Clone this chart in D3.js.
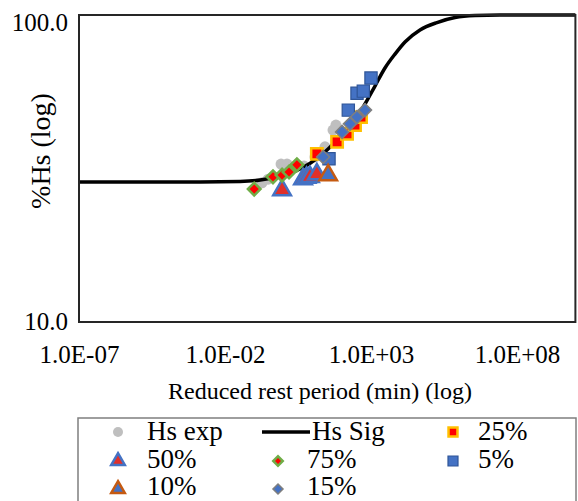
<!DOCTYPE html>
<html>
<head>
<meta charset="utf-8">
<script src="https://cdn.jsdelivr.net/npm/d3@7"></script>
<style>
  html, body { margin: 0; padding: 0; background: #fff; }
  svg { display: block; }
  text { font-family: "Liberation Serif", Tinos, "Times New Roman", "DejaVu Serif", serif; fill: #000; }
</style>
</head>
<body>
<svg id="chart" width="578" height="501"></svg>
<script>
// ---- data ----
const xTickValues = [1e-7, 1e-2, 1e3, 1e8];
const xTickLabels = ["1.0E-07", "1.0E-02", "1.0E+03", "1.0E+08"];
const yTickValues = [10, 100];
const yTickLabels = ["10.0", "100.0"];

// Hs exp (grey circles)
const hsExpX = [0.185, 0.30, 0.83, 1.33, 5.1, 12.1, 26.6, 50, 63];
const hsExpY = [28.4, 29.2, 32.7, 32.7, 32.2, 34.5, 37.2, 42.2, 43.8];

// Hs Sig (fitted sigmoid curve)
const sigX = [1e-7, 0.0014, 0.033, 0.16, 0.77, 3.7, 18, 87, 283, 624, 1370, 3010, 6640, 14600, 47600, 182000, 753000, 3.65e6, 2.6e7, 1e10];
const sigY = [28.6, 28.6, 28.7, 29.0, 29.9, 31.5, 34.7, 40.1, 45.5, 51.3, 58.7, 67.2, 74.6, 81.7, 89.4, 94.5, 98.1, 99.6, 100, 100];

// 25%
const s25X = [14, 69, 151, 283, 455];
const s25Y = [35.3, 38.6, 41.0, 43.8, 46.5];
// 50%
const s50X = [0.9, 4.7, 6.2, 8.1, 14];
const s50Y = [26.9, 29.2, 29.5, 29.7, 30.3];
// 75%
const s75X = [0.1, 0.44, 0.9, 1.56, 2.9];
const s75Y = [27.1, 29.7, 30.1, 30.8, 32.5];
// 5%
const s5X = [36.5, 167, 332, 545, 1000];
const s5Y = [34.0, 49.0, 55.6, 56.5, 62.3];
// 10%
const s10X = [34];
const s10Y = [30.1];
// 15%
const s15X = [23, 102, 191, 332, 624];
const s15Y = [34.5, 41.6, 44.2, 46.5, 49.0];

const legendLabels = ["Hs exp", "Hs Sig", "25%", "50%", "75%", "5%", "10%", "15%"];

// ---- chart ----
const svg = d3.select("#chart");
const L = 79, R = 575.4, T = 15, B = 322;

const x = d3.scaleLog().domain([1e-7, 1e10]).range([L, R]);
const y = d3.scaleLog().domain([10, 100]).range([B, T]);

const zip = (xs, ys) => xs.map((v, i) => [v, ys[i]]);

// axes labels
const xAxis = d3.axisBottom(x).tickValues(xTickValues).tickSize(0)
  .tickFormat((d, i) => xTickLabels[i]);
const gx = svg.append("g").attr("transform", `translate(0,${B})`).call(xAxis);
gx.attr("font-family", null);
gx.select(".domain").remove();
gx.selectAll("text").attr("font-size", 25)
  .attr("fill", "#000").attr("y", 40.7).attr("dy", null);

const yAxis = d3.axisLeft(y).tickValues(yTickValues).tickSize(0)
  .tickFormat((d, i) => yTickLabels[i]);
const gy = svg.append("g").attr("transform", `translate(${L},0)`).call(yAxis);
gy.attr("font-family", null);
gy.select(".domain").remove();
gy.selectAll("text").attr("font-size", 25)
  .attr("fill", "#000").attr("x", -11)
  .attr("dy", d => d === 100 ? 15.7 : 7.3);

// titles
svg.append("text").attr("x", 320).attr("y", 399).attr("text-anchor", "middle")
  .attr("font-size", 24).text("Reduced rest period (min) (log)");
svg.append("text").attr("transform", "translate(50,151) rotate(-90)")
  .attr("text-anchor", "middle").attr("font-size", 28).text("%Hs (log)");

// plot group
const gp = svg.append("g");

// Hs exp
gp.selectAll("circle.exp").data(zip(hsExpX, hsExpY)).join("circle")
  .attr("cx", d => x(d[0])).attr("cy", d => y(d[1])).attr("r", 5.5)
  .attr("fill", "#bfbfbf");

// Sigmoid line
const line = d3.line().x(d => x(d[0])).y(d => y(d[1])).curve(d3.curveMonotoneX);
gp.append("path").datum(zip(sigX, sigY)).attr("d", line)
  .attr("fill", "none").attr("stroke", "#000").attr("stroke-width", 3.5);

const sq = d3.symbol().type(d3.symbolSquare);
const tri = d3.symbol().type(d3.symbolTriangle);
const dia = d3.symbol().type(d3.symbolSquare);

function markers(xs, ys, gen, size, fill, stroke, sw, rot) {
  gp.append("g").selectAll("path").data(zip(xs, ys)).join("path")
    .attr("transform", d => `translate(${x(d[0])},${y(d[1])})` + (rot ? " rotate(45)" : ""))
    .attr("d", gen.size(size)())
    .attr("fill", fill).attr("stroke", stroke).attr("stroke-width", sw);
}

markers(s25X, s25Y, sq, 130, "#ff0000", "#ffc000", 2.5, false);
markers(s50X, s50Y, tri, 135, "#e0302a", "#4472c4", 2.5, false);
markers(s75X, s75Y, dia, 80, "#ff0000", "#70ad47", 2.5, true);
markers(s5X, s5Y, sq, 150, "#4472c4", "#2f5597", 1.2, false);
markers(s10X, s10Y, tri, 135, "#4472c4", "#c55a11", 2.5, false);
markers(s15X, s15Y, dia, 85, "#4472c4", "#7f7f7f", 1.5, true);

// frame
svg.append("rect").attr("x", L).attr("y", T).attr("width", R - L).attr("height", B - T)
  .attr("fill", "none").attr("stroke", "#262626").attr("stroke-width", 2);

// legend
const lg = svg.append("g");
lg.append("rect").attr("x", 78).attr("y", 418).attr("width", 498).attr("height", 100)
  .attr("fill", "#fff").attr("stroke", "#7f7f7f").attr("stroke-width", 1.5);

const rowsY = [432, 461, 489];
const baseY = [440, 467.5, 495];
const fs = 27;
// row 1
lg.append("circle").attr("cx", 118).attr("cy", rowsY[0]).attr("r", 5).attr("fill", "#bfbfbf");
lg.append("text").attr("x", 147).attr("y", baseY[0]).attr("font-size", fs).text(legendLabels[0]);
lg.append("line").attr("x1", 262).attr("x2", 310).attr("y1", rowsY[0]).attr("y2", rowsY[0])
  .attr("stroke", "#000").attr("stroke-width", 3.5);
lg.append("text").attr("x", 312).attr("y", baseY[0]).attr("font-size", fs).text(legendLabels[1]);
lg.append("path").attr("transform", `translate(453,${rowsY[0]})`).attr("d", sq.size(80)())
  .attr("fill", "#ff0000").attr("stroke", "#ffc000").attr("stroke-width", 2.5);
lg.append("text").attr("x", 478).attr("y", baseY[0]).attr("font-size", fs).text(legendLabels[2]);
// row 2
lg.append("path").attr("transform", `translate(118,${rowsY[1]})`).attr("d", tri.size(80)())
  .attr("fill", "#e0302a").attr("stroke", "#4472c4").attr("stroke-width", 2.5);
lg.append("text").attr("x", 147).attr("y", baseY[1]).attr("font-size", fs).text(legendLabels[3]);
lg.append("path").attr("transform", `translate(278,${rowsY[1]}) rotate(45)`).attr("d", dia.size(45)())
  .attr("fill", "#ff0000").attr("stroke", "#70ad47").attr("stroke-width", 2.5);
lg.append("text").attr("x", 307).attr("y", baseY[1]).attr("font-size", fs).text(legendLabels[4]);
lg.append("path").attr("transform", `translate(453,${rowsY[1]})`).attr("d", sq.size(100)())
  .attr("fill", "#4472c4").attr("stroke", "#2f5597").attr("stroke-width", 1.2);
lg.append("text").attr("x", 478).attr("y", baseY[1]).attr("font-size", fs).text(legendLabels[5]);
// row 3
lg.append("path").attr("transform", `translate(118,${rowsY[2]})`).attr("d", tri.size(80)())
  .attr("fill", "#4472c4").attr("stroke", "#c55a11").attr("stroke-width", 2.5);
lg.append("text").attr("x", 147).attr("y", baseY[2]).attr("font-size", fs).text(legendLabels[6]);
lg.append("path").attr("transform", `translate(278,${rowsY[2]}) rotate(45)`).attr("d", dia.size(50)())
  .attr("fill", "#4472c4").attr("stroke", "#7f7f7f").attr("stroke-width", 1.5);
lg.append("text").attr("x", 307).attr("y", baseY[2]).attr("font-size", fs).text(legendLabels[7]);
</script>
</body>
</html>
